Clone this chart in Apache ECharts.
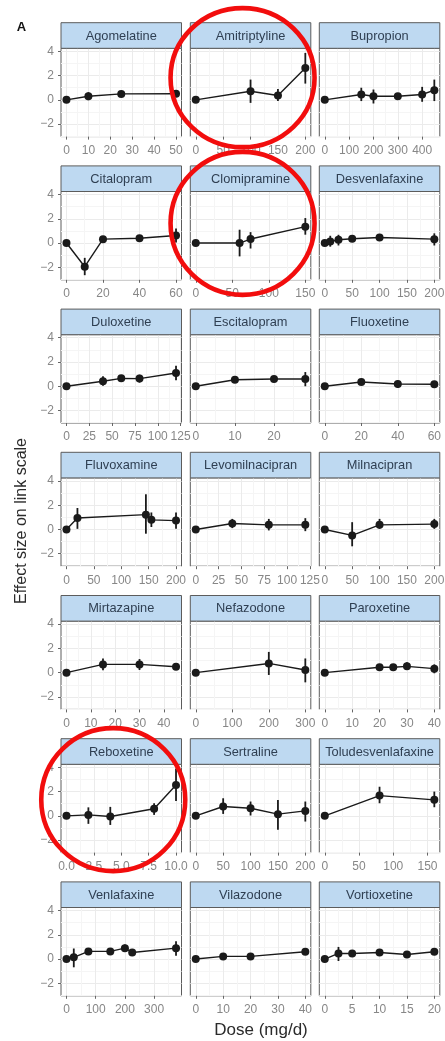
<!DOCTYPE html>
<html>
<head>
<meta charset="utf-8">
<script src="https://cdn.jsdelivr.net/npm/echarts@6/dist/echarts.min.js"></script>
<style>
  html, body { margin: 0; padding: 0; background: #fff; }
  #chart { width: 445px; height: 1041px; }
</style>
</head>
<body>
<div id="chart"></div>
<script>
// Dose-response estimates per antidepressant (effect on link scale, with interval bounds)
const drugs = [
  'Agomelatine', 'Amitriptyline', 'Bupropion',
  'Citalopram', 'Clomipramine', 'Desvenlafaxine',
  'Duloxetine', 'Escitalopram', 'Fluoxetine',
  'Fluvoxamine', 'Levomilnacipran', 'Milnacipran',
  'Mirtazapine', 'Nefazodone', 'Paroxetine',
  'Reboxetine', 'Sertraline', 'Toludesvenlafaxine',
  'Venlafaxine', 'Vilazodone', 'Vortioxetine'
];

const doses = [
  [0, 10, 25, 50], [0, 100, 150, 200], [0, 150, 200, 300, 400, 450],
  [0, 10, 20, 40, 60], [0, 60, 75, 150], [0, 10, 25, 50, 100, 200],
  [0, 40, 60, 80, 120], [0, 10, 20, 28], [0, 20, 40, 60],
  [0, 20, 145, 155, 200], [0, 40, 80, 120], [0, 50, 100, 200],
  [0, 15, 30, 45], [0, 200, 300], [0, 20, 25, 30, 40],
  [0, 2, 4, 8, 10], [0, 50, 100, 150, 200], [0, 80, 160],
  [0, 25, 75, 150, 200, 225, 375], [0, 10, 20, 40], [0, 2.5, 5, 10, 15, 20]
];

const effects = [
  [0, 0.30, 0.49, 0.50], [0, 0.71, 0.36, 2.63], [0, 0.44, 0.30, 0.30, 0.44, 0.80],
  [0, -1.95, 0.32, 0.40, 0.62], [0, 0.00, 0.33, 1.35], [0, 0.13, 0.27, 0.35, 0.46, 0.32],
  [0, 0.41, 0.65, 0.63, 1.09], [0, 0.54, 0.60, 0.60], [0, 0.35, 0.19, 0.16],
  [0, 0.95, 1.22, 0.79, 0.73], [0, 0.49, 0.38, 0.38], [0, -0.49, 0.38, 0.44],
  [0, 0.68, 0.68, 0.49], [0, 0.76, 0.22], [0, 0.44, 0.44, 0.52, 0.33],
  [0, 0.08, -0.05, 0.58, 2.55], [0, 0.77, 0.63, 0.14, 0.41], [0, 1.67, 1.32],
  [0, 0.14, 0.63, 0.63, 0.90, 0.54, 0.90], [0, 0.22, 0.22, 0.60], [0, 0.46, 0.46, 0.54, 0.38, 0.60]
];

const lowers = [
  [null, -0.03, 0.35, 0.35], [null, -0.25, -0.10, 1.34], [null, -0.10, -0.30, 0.15, -0.16, -0.10],
  [null, -2.65, 0.20, 0.25, 0.05], [null, -1.10, -0.45, 0.69], [null, -0.30, -0.20, 0.20, 0.32, -0.20],
  [null, 0.05, 0.45, 0.30, 0.50], [null, 0.40, 0.45, 0.00], [null, 0.20, -0.14, -0.10],
  [null, 0.05, -0.35, 0.20, 0.05], [null, 0.11, -0.08, -0.14], [null, -1.39, 0.05, 0.05],
  [null, 0.20, 0.22, 0.35], [null, -0.19, -0.80], [null, 0.30, 0.22, 0.22, -0.05],
  [null, -0.66, -0.75, 0.08, 1.23], [null, 0.16, 0.03, -1.15, -0.47], [null, 1.04, 0.71],
  [null, -0.68, 0.50, 0.50, 0.60, 0.40, 0.27], [null, 0.10, 0.10, 0.45], [null, -0.16, 0.30, 0.38, 0.20, 0.45]
];

const uppers = [
  [null, 0.63, 0.63, 0.65], [null, 1.67, 0.90, 3.87], [null, 1.00, 0.85, 0.45, 1.07, 1.67],
  [null, -1.22, 0.45, 0.55, 1.20], [null, 1.10, 0.90, 2.06], [null, 0.60, 0.68, 0.50, 0.60, 0.80],
  [null, 0.82, 0.85, 0.95, 1.70], [null, 0.68, 0.75, 1.17], [null, 0.50, 0.46, 0.40],
  [null, 1.77, 2.90, 1.40, 1.40], [null, 0.87, 0.87, 0.93], [null, 0.60, 0.87, 0.87],
  [null, 1.17, 1.12, 0.65], [null, 1.71, 1.17], [null, 0.58, 0.68, 0.85, 0.68],
  [null, 0.70, 0.74, 1.04, 3.90], [null, 1.45, 1.18, 1.30, 1.18], [null, 2.40, 2.00],
  [null, 0.87, 0.76, 0.76, 1.20, 0.68, 1.47], [null, 0.35, 0.35, 0.75], [null, 1.00, 0.62, 0.70, 0.56, 0.75]
];

const doseTicks = [
  [0, 10, 20, 30, 40, 50], [0, 50, 100, 150, 200], [0, 100, 200, 300, 400],
  [0, 20, 40, 60], [0, 50, 100, 150], [0, 50, 100, 150, 200],
  [0, 25, 50, 75, 100, 125], [0, 10, 20], [0, 20, 40, 60],
  [0, 50, 100, 150, 200], [0, 25, 50, 75, 100, 125], [0, 50, 100, 150, 200],
  [0, 10, 20, 30, 40], [0, 100, 200, 300], [0, 10, 20, 30, 40],
  [0, 2.5, 5, 7.5, 10], [0, 50, 100, 150, 200], [0, 50, 100, 150],
  [0, 100, 200, 300], [0, 10, 20, 30, 40], [0, 5, 10, 15, 20]
];

const effectTicks = [-2, 0, 2, 4];
const effectMinor = [-3, -1, 1, 3];
const effectRange = [-3.03, 4.25];

// Panels singled out with a red ring
const ringed = ['Amitriptyline', 'Clomipramine', 'Reboxetine'];

// ---- facet layout (pixels) ----
const colLeft = [61, 190.3, 319.3];
const panelW = 120.5;
const firstStripTop = 22.7;
const rowPitch = 143.2;
const stripH = 25.6;
const plotH = 88.3;
const FONT = '"Liberation Sans", Arial, Helvetica, sans-serif';

const chart = echarts.init(document.getElementById('chart'), null, { renderer: 'canvas' });

const grids = [];
const xMain = [], xMinor = [];
const yMain = [], yMinor = [];
const series = [];
const graphics = [];

function minorBetween(ticks, lo, hi) {
  const out = [];
  const step = ticks.length > 1 ? ticks[1] - ticks[0] : 1;
  const all = [ticks[0] - step].concat(ticks, [ticks[ticks.length - 1] + step]);
  for (let k = 0; k < all.length - 1; k++) {
    const m = (all[k] + all[k + 1]) / 2;
    if (m >= lo && m <= hi) out.push(m);
  }
  return out;
}

function minusFmt(v) {
  return v < 0 ? '\u2212' + Math.abs(v) : String(v);
}

drugs.forEach((name, i) => {
  const col = i % 3, row = Math.floor(i / 3);
  const left = colLeft[col];
  const stripTop = firstStripTop + row * rowPitch;
  const plotTop = stripTop + stripH;

  grids.push({
    left: left, top: plotTop, width: panelW, height: plotH,
    show: true, backgroundColor: '#fff', borderColor: '#5c5c5c', borderWidth: 1,
    containLabel: false, outerBoundsMode: 'none'
  });

  const dMin = Math.min.apply(null, doses[i]);
  const dMax = Math.max.apply(null, doses[i]);
  const pad = 0.05 * (dMax - dMin);
  const xmin = dMin - pad, xmax = dMax + pad;
  const ticks = doseTicks[i];
  const decimals = ticks.some(t => !Number.isInteger(t)) ? 1 : 0;

  xMain.push({
    type: 'value', gridIndex: i, min: xmin, max: xmax, position: 'bottom',
    axisLine: { show: false, onZero: false },
    axisTick: { show: true, length: 3, lineStyle: { color: '#666', width: 1 }, customValues: ticks },
    axisLabel: {
      show: true, customValues: ticks, color: '#878787', fontSize: 12, fontFamily: FONT, margin: 8,
      formatter: v => Number(v).toFixed(decimals)
    },
    splitLine: { show: true, lineStyle: { color: '#ebebeb', width: 1 } }
  });
  xMinor.push({
    type: 'value', gridIndex: i, min: xmin, max: xmax, position: 'top',
    axisLine: { show: false, onZero: false },
    axisTick: { show: false, customValues: minorBetween(ticks, xmin, xmax) },
    axisLabel: { show: false },
    splitLine: { show: true, lineStyle: { color: '#f5f5f5', width: 1 } }
  });

  const showY = col === 0;
  yMain.push({
    type: 'value', gridIndex: i, min: effectRange[0], max: effectRange[1], position: 'left',
    axisLine: { show: false, onZero: false },
    axisTick: { show: showY, length: 3, lineStyle: { color: '#666', width: 1 }, customValues: effectTicks },
    axisLabel: {
      show: showY, customValues: effectTicks, color: '#878787', fontSize: 12, fontFamily: FONT, margin: 7,
      formatter: minusFmt
    },
    splitLine: { show: true, lineStyle: { color: '#ebebeb', width: 1 } }
  });
  yMinor.push({
    type: 'value', gridIndex: i, min: effectRange[0], max: effectRange[1], position: 'right',
    axisLine: { show: false, onZero: false },
    axisTick: { show: false, customValues: effectMinor },
    axisLabel: { show: false },
    splitLine: { show: true, lineStyle: { color: '#f5f5f5', width: 1 } }
  });

  // interval bars
  const bars = doses[i]
    .map((d, j) => [d, lowers[i][j], uppers[i][j]])
    .filter(r => r[1] != null && r[2] != null);
  series.push({
    type: 'custom', xAxisIndex: i, yAxisIndex: i, data: bars,
    encode: { x: 0, y: [1, 2] }, silent: true, z: 2,
    renderItem: (params, api) => {
      const p1 = api.coord([api.value(0), api.value(1)]);
      const p2 = api.coord([api.value(0), api.value(2)]);
      return {
        type: 'line',
        shape: { x1: p1[0], y1: p1[1], x2: p2[0], y2: p2[1] },
        style: { stroke: '#1a1a1a', lineWidth: 1.8 }
      };
    }
  });

  // estimates joined by a line
  series.push({
    type: 'line', xAxisIndex: i, yAxisIndex: i,
    data: doses[i].map((d, j) => [d, effects[i][j]]),
    symbol: 'circle', symbolSize: 8, showSymbol: true,
    itemStyle: { color: '#1a1a1a' },
    lineStyle: { color: '#1a1a1a', width: 1.4 },
    silent: true, z: 3
  });

  // facet strip
  graphics.push({
    type: 'rect', silent: true, z: 10,
    shape: { x: left, y: stripTop, width: panelW, height: stripH },
    style: { fill: '#bed9f1', stroke: '#5c5c5c', lineWidth: 1 }
  });
  graphics.push({
    type: 'text', silent: true, z: 11,
    x: left + panelW / 2, y: stripTop + stripH / 2 + 0.5,
    style: {
      text: name, fill: '#2f3f52', font: '12.8px ' + FONT,
      align: 'center', verticalAlign: 'middle', textAlign: 'center', textVerticalAlign: 'middle'
    }
  });

  // red ring around selected panels
  if (ringed.indexOf(name) >= 0) {
    const cx = left + panelW / 2 - 8;
    const cy = stripTop + (stripH + plotH) / 2 + (row === 0 ? -2 : row === 1 ? 0.5 : 4);
    graphics.push({
      type: 'ellipse', silent: true, z: 50,
      shape: { cx: cx, cy: cy, rx: 72, ry: row === 0 ? 69.5 : 71.5 },
      style: { fill: 'none', stroke: '#f20d0d', lineWidth: 4.6 }
    });
  }
});

// axis titles and panel tag
graphics.push({
  type: 'text', silent: true, z: 20, x: 22, y: 521, rotation: Math.PI / 2,
  style: {
    text: 'Effect size on link scale', fill: '#2b2b2b', font: '16px ' + FONT,
    align: 'center', verticalAlign: 'middle', textAlign: 'center', textVerticalAlign: 'middle'
  }
});
graphics.push({
  type: 'text', silent: true, z: 20, x: 261, y: 1030,
  style: {
    text: 'Dose (mg/d)', fill: '#2b2b2b', font: '17px ' + FONT,
    align: 'center', verticalAlign: 'middle', textAlign: 'center', textVerticalAlign: 'middle'
  }
});
graphics.push({
  type: 'text', silent: true, z: 20, x: 21.5, y: 27,
  style: {
    text: 'A', fill: '#111', font: 'bold 13px ' + FONT,
    align: 'center', verticalAlign: 'middle', textAlign: 'center', textVerticalAlign: 'middle'
  }
});

chart.setOption({
  animation: false,
  backgroundColor: '#ffffff',
  textStyle: { fontFamily: FONT },
  grid: grids,
  xAxis: xMain.concat(xMinor),
  yAxis: yMain.concat(yMinor),
  series: series,
  graphic: { elements: graphics }
});
</script>
</body>
</html>
